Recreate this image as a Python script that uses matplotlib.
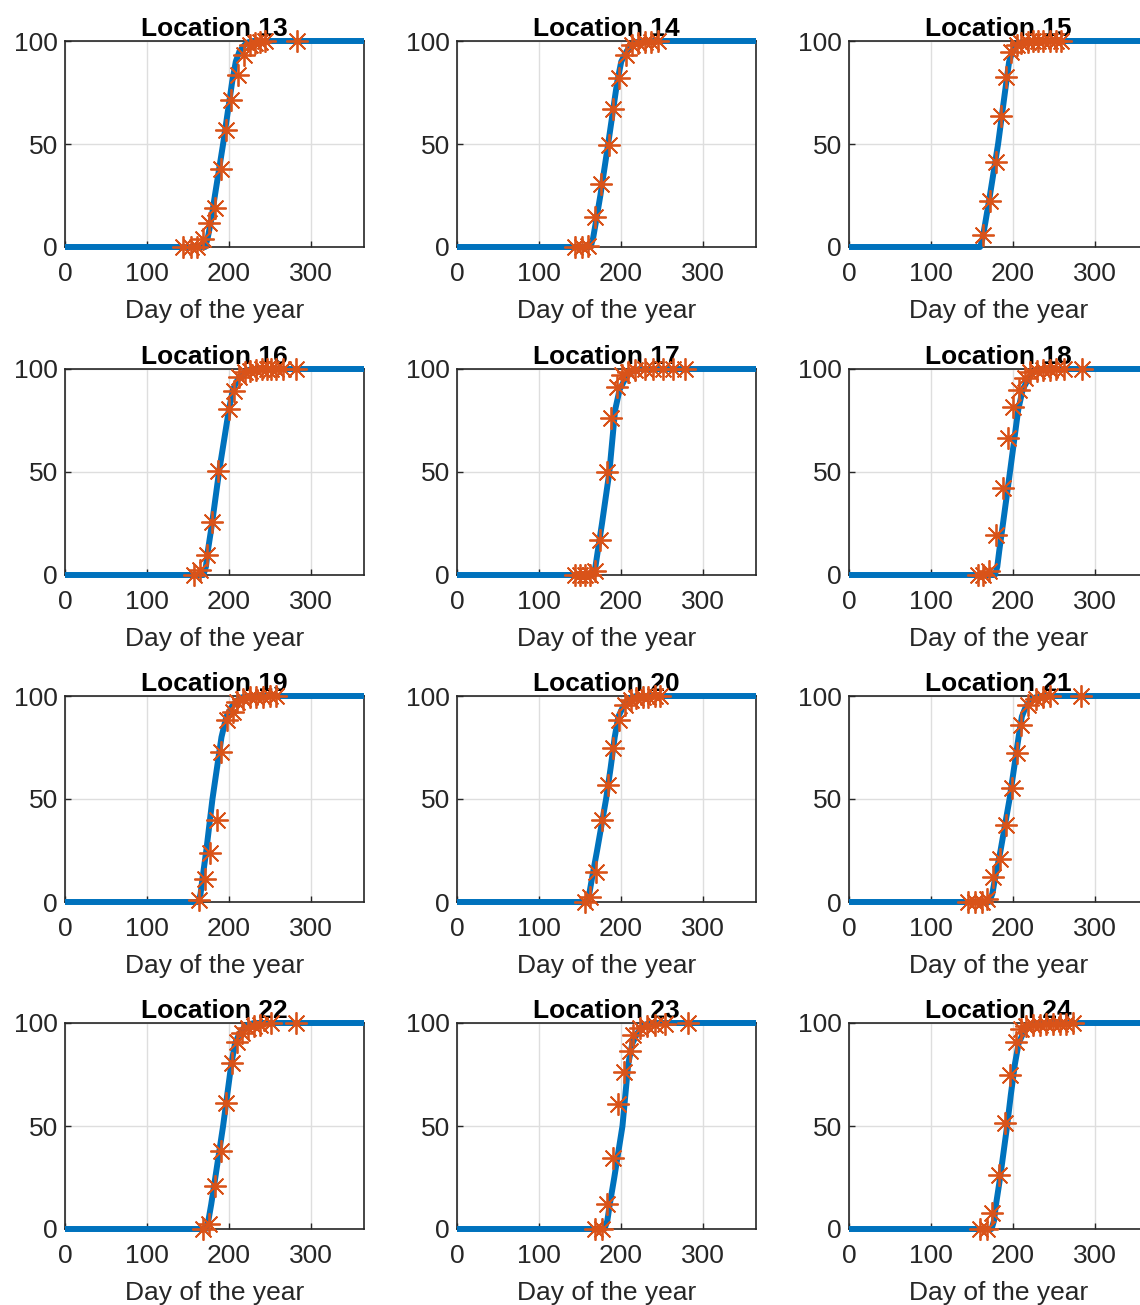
import matplotlib
matplotlib.use("Agg")
import matplotlib.pyplot as plt

plt.rcParams['font.family'] = ['Liberation Sans', 'DejaVu Sans']

# observed points (day of year, percent) per location
obs_day = {
    13: [144, 154, 161, 169, 176, 183, 190, 197, 203, 211, 219, 226, 232, 238, 244, 283],
    14: [144, 152, 160, 168, 176, 185, 191, 198, 206, 214, 221, 229, 237, 245],
    15: [164, 172, 179, 186, 192, 198, 204.5, 210.5, 218.5, 225, 231, 237, 245, 253, 259],
    16: [157, 165, 173, 180, 187, 200, 206, 213, 219.5, 226, 233, 240, 246, 252, 258, 266, 282.5],
    17: [144, 150, 156, 162, 168, 175, 182.5, 188.5, 195.5, 202, 209, 217, 229, 239, 252, 264, 278],
    18: [157.5, 164, 171, 180, 187.5, 194.5, 200.5, 207.5, 214.5, 221.5, 229, 237, 245, 253, 263, 285],
    19: [164, 171, 177.5, 185, 191, 198, 204.5, 209.5, 217.5, 225.5, 233.5, 242, 250, 258],
    20: [156, 162, 170, 177.5, 184.5, 190.5, 198, 205, 212, 219, 226.5, 233.5, 241.5, 247.5],
    21: [145.5, 153.5, 162, 168, 176, 184, 191.5, 198.5, 204.5, 210.5, 218.5, 228, 237, 245, 283.5],
    22: [168.5, 176, 183, 190, 197, 203.5, 209.5, 216.5, 223.5, 230.5, 238, 252, 282.5],
    23: [168.5, 176.5, 182.5, 190, 196.5, 203.5, 211, 215, 223, 232, 241.5, 253.5, 282],
    24: [160, 168, 175, 183.5, 190, 197, 203.5, 209.5, 216.5, 225, 233, 241, 249, 257, 265.5, 273.5],
}
obs_pct = {
    13: [0, 0, 0, 3.7, 11.5, 18.8, 37.7, 57, 71.4, 83.5, 93.2, 98, 99, 99.5, 100, 100],
    14: [0, 0, 0.5, 14.7, 30.4, 49.5, 66.8, 82.2, 93.2, 98, 99, 99.5, 99.5, 100],
    15: [5.8, 22.5, 41.4, 63.6, 82.7, 94.8, 98, 99, 99.5, 100, 100, 100, 100, 100, 100],
    16: [0, 2.3, 9.5, 25.6, 50.6, 80.8, 89.5, 96, 98.5, 99, 99.5, 100, 100, 100, 100, 100, 100],
    17: [0, 0, 0, 0, 2, 17, 50.2, 76.3, 91.2, 97.3, 98.7, 99.5, 100, 100, 100, 100, 100],
    18: [0, 0, 2, 19.2, 42.2, 66.7, 81.5, 90, 95.7, 98.5, 99, 99.5, 99.5, 100, 100, 100],
    19: [1, 11.1, 24, 40, 73, 88.4, 92.4, 97.2, 98.5, 99.5, 99.5, 99.5, 100, 100],
    20: [0, 2.6, 14.8, 40, 56.7, 74.7, 88.4, 95.7, 98, 99, 99.5, 99.5, 100, 100],
    21: [0, 0, 0, 1.5, 12.2, 20.8, 37.3, 55.4, 72.3, 86, 95.7, 98.5, 99.5, 100, 100],
    22: [0, 2.6, 20.8, 38, 61, 80.8, 90.8, 95.3, 97.6, 98.5, 99, 100, 100],
    23: [0, 0, 12.2, 34.5, 60.5, 76, 86.3, 94, 97.6, 98.7, 99, 99.5, 100],
    24: [0, 0, 7.9, 26.4, 51.4, 75, 90.8, 97, 98.5, 99, 99, 99.5, 99.5, 99.5, 99.5, 100],
}

# fitted curve: days at which the fit reaches fit_pct
fit_pct = [0, 0, 4, 12, 25, 50, 65, 80, 90, 95, 98, 99.3, 100, 100]
fit_day = {
    13: [0, 171, 174, 178, 183, 193, 198.5, 204, 208.5, 213, 219, 223, 230, 365],
    14: [0, 163, 166, 169.5, 175, 184.5, 190, 195.5, 200.5, 207, 213, 218, 225, 365],
    15: [0, 160, 163, 166.5, 172, 182, 187, 192, 195.5, 199.5, 205, 209.5, 216, 365],
    16: [0, 169, 172, 174.5, 179.5, 188, 194, 200, 205, 211, 217, 222, 229, 365],
    17: [0, 166, 169, 172, 177, 186, 189.5, 193, 198.5, 205, 211, 216, 223, 365],
    18: [0, 178, 181, 183.5, 188, 196.5, 201.5, 206.5, 212, 218.5, 224, 228.5, 235, 365],
    19: [0, 163, 165.5, 168, 172.5, 180, 185.5, 191, 197, 204, 210.5, 215.5, 223, 365],
    20: [0, 158, 161.5, 165, 171, 182, 187.5, 192.5, 197, 203, 208.5, 212.5, 219, 365],
    21: [0, 171, 175, 178.5, 185, 196, 201.5, 207, 211, 216, 222.5, 227.5, 235, 365],
    22: [0, 172, 175, 178.5, 183.5, 193, 198, 203, 207.5, 213, 219, 224, 231, 365],
    23: [0, 180, 183.5, 186.5, 192, 202, 205.5, 209, 214, 220, 226, 230, 237, 365],
    24: [0, 174, 177, 179.5, 184.5, 193, 197.5, 202.5, 207, 212.5, 218, 222.5, 229, 365],
}

locations = list(range(13, 25))

W, H = 1140, 1305
col_left = [65, 457, 849]
row_top = [41, 369, 696, 1023]
ax_w, ax_h = 299, 206

fig = plt.figure(figsize=(W / 100, H / 100), dpi=100)

for i, loc in enumerate(locations):
    r, c = divmod(i, 3)
    ax = fig.add_axes([col_left[c] / W, 1 - (row_top[r] + ax_h) / H, ax_w / W, ax_h / H])
    ax.plot(fit_day[loc], fit_pct, color='#0072BD', lw=4.3, zorder=3, clip_on=False,
            solid_capstyle='butt')
    ax.plot(obs_day[loc], obs_pct[loc], ls='none', marker=(8, 2, 0), ms=16, mew=1.3,
            color='#D95319', zorder=4, clip_on=False)
    ax.set_xlim(0, 365)
    ax.set_ylim(0, 100)
    ax.set_xticks([0, 100, 200, 300])
    ax.set_yticks([0, 50, 100])
    ax.grid(True, color='#dedede', lw=1)
    ax.set_axisbelow(True)
    for s in ax.spines.values():
        s.set_color('#262626')
        s.set_linewidth(1.2)
    ax.tick_params(direction='in', length=4, width=1, colors='#262626', labelsize=19)
    ax.tick_params(axis='x', pad=11)
    ax.tick_params(axis='y', pad=5)
    ax.set_xlabel('Day of the year', fontsize=19, color='#262626', labelpad=9)
    ax.set_title(f'Location {loc}', fontsize=19, fontweight='bold', pad=3)

fig.savefig('out.png', dpi=100)
